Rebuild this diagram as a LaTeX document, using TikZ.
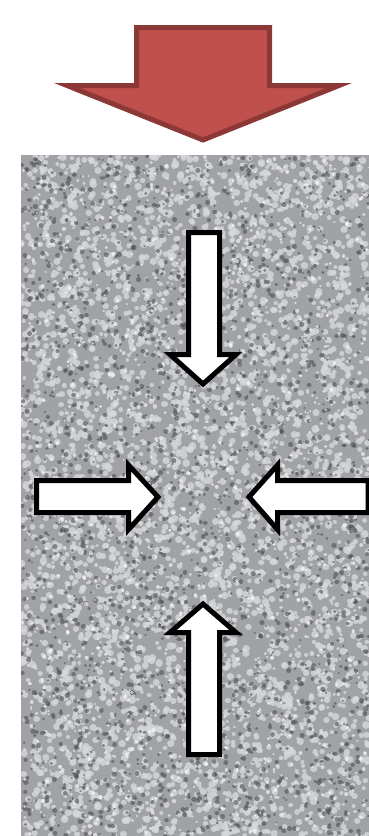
\documentclass[tikz,border=0pt]{standalone}
\definecolor{arrowred}{RGB}{192,80,77}
\definecolor{arrowredline}{RGB}{140,56,54}
\definecolor{noisebase}{RGB}{160,162,166}
\definecolor{noiselight}{RGB}{214,216,219}
\definecolor{noisedark}{RGB}{78,79,84}
\tikzset{
  bigarrow/.style={fill=arrowred, draw=arrowredline, line width=5pt, line join=miter},
  whitearrow/.style={fill=white, draw=black, line width=5pt, line join=miter},
  dot/.style={line cap=round},
}
\begin{document}
\begin{tikzpicture}[x=1pt,y=-1pt]
\useasboundingbox (0,0) rectangle (369,836);
% big red arrow
\draw[bigarrow] (136.5,27.5) -- (269.5,27.5) -- (269.5,85.5) -- (339,85.5) -- (203,140) -- (67,85.5) -- (136.5,85.5) -- cycle;
% noisy panel
\begin{scope}
\clip (21,155) rectangle (369,836);
\fill[noisebase] (21,155) rectangle (369,836);
\pgfmathsetseed{7}
\foreach \i in {1,...,4200}{
  \pgfmathsetmacro{\px}{21+348*rnd}
  \pgfmathsetmacro{\py}{155+681*rnd}
  \pgfmathsetmacro{\pr}{3.2+4.2*rnd}
  \draw[dot, noiselight, opacity=0.8, line width=\pr pt] (\px,\py) -- ++(0.3,0);
}
\foreach \i in {1,...,2400}{
  \pgfmathsetmacro{\px}{21+348*rnd}
  \pgfmathsetmacro{\py}{155+681*rnd}
  \pgfmathsetmacro{\pr}{2+3*rnd}
  \draw[dot, noisedark, opacity=0.6, line width=\pr pt] (\px,\py) -- ++(0.3,0);
}
\foreach \i in {1,...,1300}{
  \pgfmathsetmacro{\px}{21+348*rnd}
  \pgfmathsetmacro{\py}{155+681*rnd}
  \pgfmathsetmacro{\pr}{1.6+2.5*rnd}
  \draw[dot, white, opacity=0.6, line width=\pr pt] (\px,\py) -- ++(0.3,0);
}
\end{scope}
% top arrow (pointing down)
\draw[whitearrow] (188.5,232.5) -- (219.5,232.5) -- (219.5,354.5) -- (236,354.5) -- (203,384) -- (170,354.5) -- (188.5,354.5) -- cycle;
% bottom arrow (pointing up)
\draw[whitearrow] (188.5,754.5) -- (219.5,754.5) -- (219.5,632.5) -- (236,632.5) -- (203,604) -- (170,632.5) -- (188.5,632.5) -- cycle;
% left arrow (pointing right)
\draw[whitearrow] (36.5,480.5) -- (128.5,480.5) -- (128.5,465) -- (158,497) -- (128.5,529.5) -- (128.5,512.5) -- (36.5,512.5) -- cycle;
% right arrow (pointing left)
\draw[whitearrow] (368,480.5) -- (277.5,480.5) -- (277.5,465) -- (249,497) -- (277.5,529.5) -- (277.5,512.5) -- (368,512.5) -- cycle;
\end{tikzpicture}
\end{document}
